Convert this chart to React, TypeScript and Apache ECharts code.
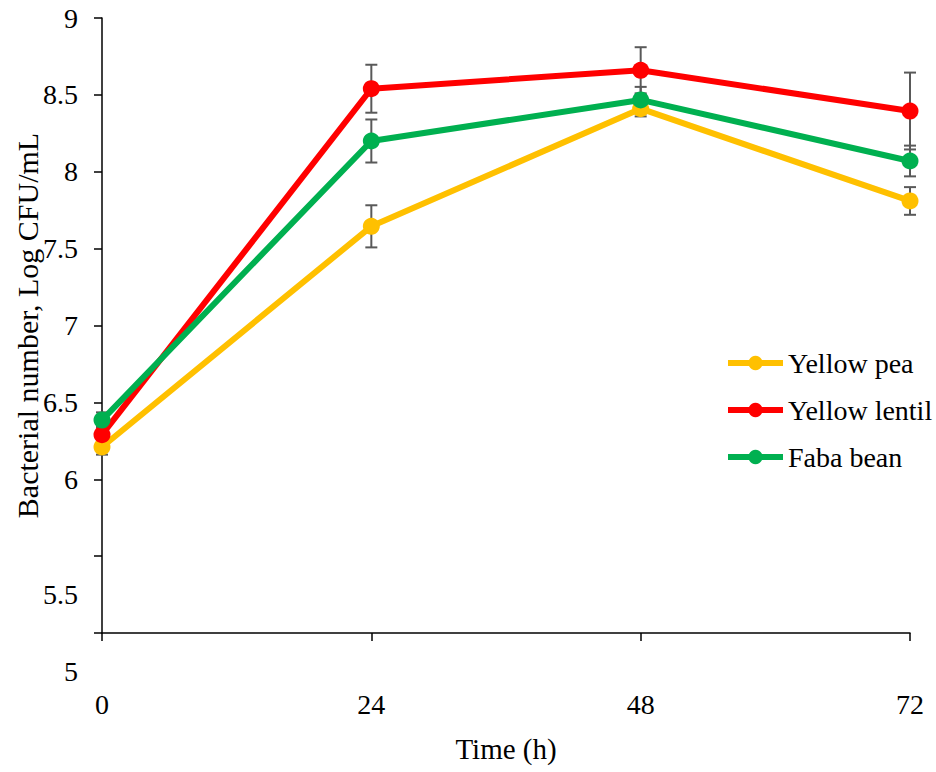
import React, { useEffect, useRef } from "react";
import * as echarts from "echarts";

const timePoints = [0, 24, 48, 72];
const seriesNames = ["Yellow pea", "Yellow lentil", "Faba bean"];
const yellowPea = [6.21, 7.645, 8.41, 7.81];
const yellowLentil = [6.29, 8.54, 8.66, 8.395];
const fabaBean = [6.385, 8.2, 8.467, 8.07];
const yellowPeaErr = [0.05, 0.137, 0.05, 0.09];
const yellowLentilErr = [0.05, 0.156, 0.15, 0.25];
const fabaBeanErr = [0.05, 0.14, 0.085, 0.1];
const yTicks = [5, 5.5, 6, 6.5, 7, 7.5, 8, 8.5, 9];
const colors = ["#FFC000", "#FF0000", "#00B050"];

const FONT = "Liberation Serif";

export default function App() {
  const ref = useRef<HTMLDivElement>(null);
  useEffect(() => {
    if (!ref.current) return;
    const chart = echarts.init(ref.current, null, { renderer: "svg" });
    const values = [yellowPea, yellowLentil, fabaBean];
    const errs = [yellowPeaErr, yellowLentilErr, fabaBeanErr];
    const errData: number[][] = [];
    values.forEach((vals, s) => {
      vals.forEach((v, i) => {
        errData.push([timePoints[i], v - errs[s][i], v + errs[s][i]]);
      });
    });
    const lowSet = new Set([yTicks[0], yTicks[1]]);
    chart.setOption({
      animation: false,
      textStyle: { fontFamily: FONT },
      grid: {
        left: 102,
        top: 18,
        right: 26,
        bottom: 139,
        containLabel: false,
        outerBoundsMode: "none",
      },
      legend: {
        orient: "vertical",
        left: 725,
        top: 349,
        padding: 0,
        itemWidth: 55,
        itemHeight: 18,
        itemGap: 19,
        data: seriesNames,
        lineStyle: { width: 6 },
        textStyle: { fontFamily: FONT, fontSize: 28, color: "#000", lineHeight: 28 },
      },
      xAxis: {
        type: "value",
        min: 0,
        max: 72,
        interval: 24,
        name: "Time (h)",
        nameLocation: "middle",
        nameGap: 101,
        nameMoveOverlap: false,
        nameTextStyle: { fontFamily: FONT, fontSize: 29, color: "#000" },
        axisLine: { lineStyle: { color: "#000", width: 1.5 } },
        axisTick: { show: true, length: 8, lineStyle: { color: "#000", width: 1.5 } },
        axisLabel: { fontFamily: FONT, fontSize: 28, color: "#000", margin: 57 },
        splitLine: { show: false },
      },
      yAxis: {
        type: "value",
        min: 5,
        max: 9,
        interval: 0.5,
        name: "Bacterial number, Log CFU/mL",
        nameLocation: "middle",
        nameGap: 60,
        nameMoveOverlap: false,
        nameTextStyle: { fontFamily: FONT, fontSize: 30, color: "#000" },
        axisLine: { lineStyle: { color: "#000", width: 1.5 } },
        axisTick: { show: true, length: 8, lineStyle: { color: "#000", width: 1.5 } },
        axisLabel: {
          fontFamily: FONT,
          fontSize: 28,
          color: "#000",
          margin: 24,
          formatter: (v: number) => (lowSet.has(v) ? `{low|${v}}` : String(v)),
          rich: {
            low: { fontFamily: FONT, fontSize: 28, color: "#000", padding: [77, 0, 0, 0] },
          },
        },
        splitLine: { show: false },
      },
      series: [
        {
          type: "custom",
          name: "err",
          data: errData,
          encode: { x: 0, y: [1, 2] },
          z: 1,
          silent: true,
          renderItem: (params: any, api: any) => {
            const x = api.value(0);
            const lo = api.coord([x, api.value(1)]);
            const hi = api.coord([x, api.value(2)]);
            const hw = 6;
            const style = { stroke: "#595959", lineWidth: 2 };
            return {
              type: "group",
              children: [
                { type: "line", shape: { x1: lo[0], y1: lo[1], x2: hi[0], y2: hi[1] }, style },
                { type: "line", shape: { x1: lo[0] - hw, y1: lo[1], x2: lo[0] + hw, y2: lo[1] }, style },
                { type: "line", shape: { x1: hi[0] - hw, y1: hi[1], x2: hi[0] + hw, y2: hi[1] }, style },
              ],
            };
          },
        },
        ...values.map((vals, s) => ({
          type: "line",
          name: seriesNames[s],
          data: vals.map((v, i) => [timePoints[i], v]),
          symbol: "circle",
          symbolSize: 17,
          z: 3,
          lineStyle: { color: colors[s], width: 6 },
          itemStyle: { color: colors[s] },
        })),
      ],
    });
    return () => chart.dispose();
  }, []);
  return (
    <div
      ref={ref}
      style={{ position: "absolute", left: 0, top: 0, width: 936, height: 772, background: "#fff" }}
    />
  );
}
